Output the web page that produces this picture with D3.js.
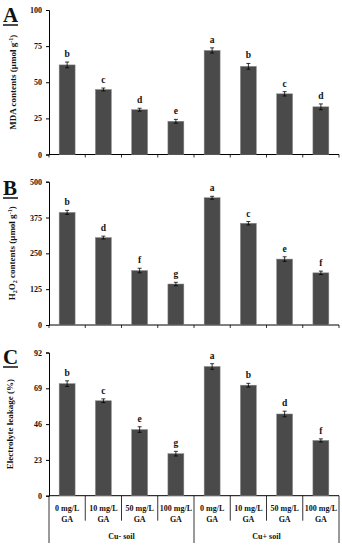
<!DOCTYPE html>
<html>
<head>
<meta charset="utf-8">
<script src="https://cdn.jsdelivr.net/npm/d3@7"></script>
<style>
  body { margin: 0; background: #fff; }
  text { font-family: "Liberation Serif", "DejaVu Serif", serif; font-weight: bold; }
</style>
</head>
<body>
<div id="chart-area"></div>
<script>
// categories
var doses = ["0 mg/L", "10 mg/L", "50 mg/L", "100 mg/L"];
var groups = ["Cu- soil", "Cu+ soil"];
var categories = ["c1", "c2", "c3", "c4", "c5", "c6", "c7", "c8"];

// panel A - MDA
var mdaValues = [62, 45, 31, 23, 72, 61, 42, 33];
var mdaErrors = [2, 1, 1, 1.3, 1.8, 2, 1.5, 2];
var mdaLetters = ["b", "c", "d", "e", "a", "b", "c", "d"];
var mdaTicks = [0, 25, 50, 75, 100];

// panel B - H2O2
var h2o2Values = [393, 305, 190, 143, 444, 355, 230, 182];
var h2o2Errors = [7, 5, 8, 6, 5, 6, 8, 6];
var h2o2Letters = ["b", "d", "f", "g", "a", "c", "e", "f"];
var h2o2Ticks = [0, 125, 250, 375, 500];

// panel C - electrolyte leakage
var elValues = [72, 61, 42.5, 27, 83, 71, 52.5, 35.5];
var elErrors = [1.8, 1.2, 1.8, 1.5, 1.8, 1.2, 1.8, 1];
var elLetters = ["b", "c", "e", "g", "a", "b", "d", "f"];
var elTicks = [0, 23, 46, 69, 92];

var W = 342, H = 550;
var svg = d3.select("#chart-area").append("svg")
    .attr("width", W)
    .attr("height", H);

var x = d3.scaleBand()
    .domain(categories)
    .range([49, 339])
    .paddingInner(0.56)
    .paddingOuter(0.28);

var panels = [
    { letter: "A", values: mdaValues, errors: mdaErrors, letters: mdaLetters, ticks: mdaTicks,
      top: 10, bottom: 154.5, labelX: 16, letterY: 22 },
    { letter: "B", values: h2o2Values, errors: h2o2Errors, letters: h2o2Letters, ticks: h2o2Ticks,
      top: 181.7, bottom: 325, labelX: 15, letterY: 195 },
    { letter: "C", values: elValues, errors: elErrors, letters: elLetters, ticks: elTicks,
      top: 352.5, bottom: 495.7, labelX: 13, letterY: 364 }
];

panels.forEach(function (p, pi) {
    var y = d3.scaleLinear()
        .domain([p.ticks[0], p.ticks[p.ticks.length - 1]])
        .range([p.bottom, p.top]);

    var g = svg.append("g");

    // y axis
    var yAxis = d3.axisLeft(y).tickValues(p.ticks).tickSize(3).tickPadding(4);
    g.append("g")
        .attr("transform", "translate(49,0)")
        .call(yAxis)
        .call(function (s) {
            s.select(".domain").attr("stroke", "#000").attr("stroke-width", 1);
            s.selectAll("text").attr("font-size", 8).attr("fill", "#111");
        });

    // x axis line
    g.append("line")
        .attr("x1", 49).attr("x2", 339)
        .attr("y1", p.bottom).attr("y2", p.bottom)
        .attr("stroke", "#000").attr("stroke-width", 1);

    // boundary ticks
    var bounds = d3.range(9).map(function (i) { return 49 + i * (290 / 8); });
    var tickLen = pi === 2 ? 25 : 3;
    g.selectAll(".bnd").data(bounds).enter()
        .append("line")
        .attr("x1", function (d) { return d; })
        .attr("x2", function (d) { return d; })
        .attr("y1", p.bottom)
        .attr("y2", function (d, i) {
            if (pi === 2 && (i === 0 || i === 4 || i === 8)) return 543;
            return p.bottom + tickLen;
        })
        .attr("stroke", "#000").attr("stroke-width", 0.8);

    // bars
    g.selectAll("rect").data(p.values).enter()
        .append("rect")
        .attr("x", function (d, i) { return x(categories[i]); })
        .attr("y", function (d) { return y(d); })
        .attr("width", x.bandwidth())
        .attr("height", function (d) { return p.bottom - y(d); })
        .attr("fill", "#4a4a4a")
        .attr("stroke", "#8a8a8a")
        .attr("stroke-width", 0.5);

    // error bars
    var cx = function (i) { return x(categories[i]) + x.bandwidth() / 2; };
    var eb = g.selectAll(".eb").data(p.values).enter().append("g");
    eb.append("line")
        .attr("x1", function (d, i) { return cx(i); })
        .attr("x2", function (d, i) { return cx(i); })
        .attr("y1", function (d, i) { return y(d + p.errors[i]); })
        .attr("y2", function (d, i) { return y(d - p.errors[i]); })
        .attr("stroke", "#000").attr("stroke-width", 0.8);
    [1, -1].forEach(function (sgn) {
        eb.append("line")
            .attr("x1", function (d, i) { return cx(i) - 2; })
            .attr("x2", function (d, i) { return cx(i) + 2; })
            .attr("y1", function (d, i) { return y(d + sgn * p.errors[i]); })
            .attr("y2", function (d, i) { return y(d + sgn * p.errors[i]); })
            .attr("stroke", "#000").attr("stroke-width", 0.8);
    });

    // significance letters
    g.selectAll(".lt").data(p.values).enter()
        .append("text")
        .attr("x", function (d, i) { return cx(i); })
        .attr("y", function (d, i) { return y(d + p.errors[i]) - 5; })
        .attr("text-anchor", "middle")
        .attr("font-size", 9.5)
        .attr("fill", "#111")
        .text(function (d, i) { return p.letters[i]; });

    // y label
    var midY = (p.top + p.bottom) / 2;
    var yl = g.append("text")
        .attr("transform", "translate(" + p.labelX + "," + midY + ") rotate(-90)")
        .attr("text-anchor", "middle")
        .attr("font-size", 9)
        .attr("fill", "#111");
    if (pi === 0) {
        yl.append("tspan").text("MDA contents (µmol g");
        yl.append("tspan").attr("dy", -3).attr("font-size", 6).text("-1");
        yl.append("tspan").attr("dy", 3).text(")");
    } else if (pi === 1) {
        yl.append("tspan").text("H");
        yl.append("tspan").attr("dy", 2).attr("font-size", 6).text("2");
        yl.append("tspan").attr("dy", -2).text("O");
        yl.append("tspan").attr("dy", 2).attr("font-size", 6).text("2");
        yl.append("tspan").attr("dy", -2).text(" contents (µmol g");
        yl.append("tspan").attr("dy", -3).attr("font-size", 6).text("-1");
        yl.append("tspan").attr("dy", 3).text(")");
    } else {
        yl.text("Electrolyte leakage (%)");
    }

    // panel letter
    g.append("text")
        .attr("x", 3)
        .attr("y", p.letterY)
        .attr("font-size", 21)
        .attr("fill", "#111")
        .text(p.letter);
    g.append("line")
        .attr("x1", 3).attr("x2", 18)
        .attr("y1", p.letterY + 3).attr("y2", p.letterY + 3)
        .attr("stroke", "#111").attr("stroke-width", 1.5);
});

// category labels under panel C
var catG = svg.append("g");
categories.forEach(function (c, i) {
    var cx = 49 + (i + 0.5) * (290 / 8);
    var t = catG.append("text")
        .attr("y", 511)
        .attr("text-anchor", "middle")
        .attr("font-size", 8)
        .attr("fill", "#111");
    t.append("tspan").attr("x", cx).text(doses[i % 4]);
    t.append("tspan").attr("x", cx).attr("dy", 11).text("GA");
});

// group labels
groups.forEach(function (gname, gi) {
    var cx = 49 + 145 * gi + 72.5;
    catG.append("text")
        .attr("x", cx)
        .attr("y", 539)
        .attr("text-anchor", "middle")
        .attr("font-size", 8)
        .attr("fill", "#111")
        .text(gname);
});
</script>
</body>
</html>
